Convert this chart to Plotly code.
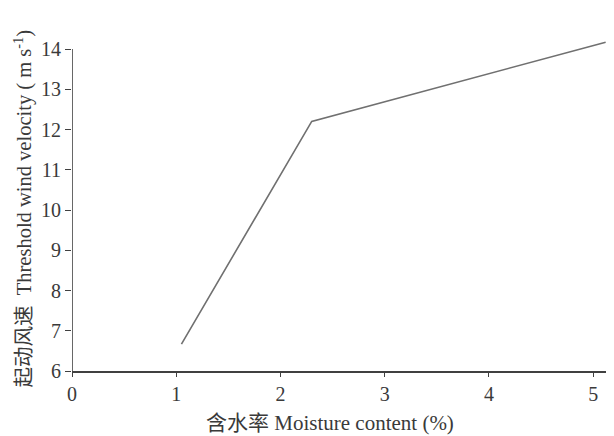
import plotly.graph_objects as go

moisture = [1.05, 2.3, 5.12]
velocity = [6.67, 12.2, 14.17]
x_ticks = [0, 1, 2, 3, 4, 5]
y_ticks = [6, 7, 8, 9, 10, 11, 12, 13, 14]

FONT = "Liberation Serif, Times New Roman, Noto Sans CJK SC, serif"

fig = go.Figure()
fig.add_trace(go.Scatter(x=moisture, y=velocity, mode="lines",
                         line=dict(color="#707070", width=1.6),
                         showlegend=False, hoverinfo="skip"))

# y axis line only spans the labelled range
fig.add_shape(type="line", xref="x", yref="y", x0=0, x1=0, y0=y_ticks[0], y1=y_ticks[-1],
              line=dict(color="#404040", width=1.6), layer="above")

fig.add_annotation(text="含水率 Moisture content (%)", xref="paper", yref="paper",
                   x=0.476, y=0, yshift=-52, xanchor="center", yanchor="middle",
                   showarrow=False, font=dict(size=21, family=FONT, color="#3a3a3a"))
fig.add_annotation(text="起动风速  Threshold wind velocity ( m s<sup>-1</sup>)",
                   xref="paper", yref="paper", x=0, y=0.5, xshift=-49, yshift=-8,
                   xanchor="center", yanchor="middle", textangle=-90,
                   showarrow=False, font=dict(size=20.5, family=FONT, color="#3a3a3a"))

# the page body adds an 8px offset, so the figure is sized to fit the 614x436 window
fig.update_layout(
    width=606, height=428,
    margin=dict(l=64, r=0, t=22, b=65),
    paper_bgcolor="white", plot_bgcolor="white",
    font=dict(family=FONT, size=20, color="#3a3a3a"),
    xaxis=dict(range=[0, 5.2], tickvals=x_ticks, ticks="outside", ticklen=4,
               tickcolor="#404040", tickwidth=1.3, showline=True, linecolor="#404040",
               linewidth=1.6, showgrid=False, zeroline=False, automargin=False),
    yaxis=dict(range=[6, 14.472], tickvals=y_ticks, ticks="outside", ticklen=6,
               tickcolor="#404040", tickwidth=1.3, showline=False,
               showgrid=False, zeroline=False, automargin=False),
)

fig.write_html("out.html")
